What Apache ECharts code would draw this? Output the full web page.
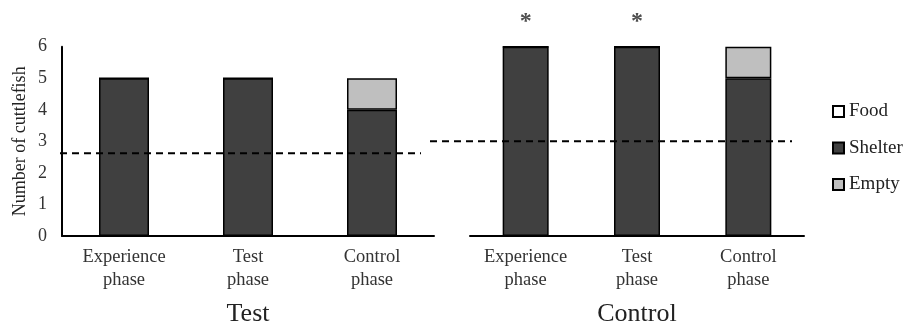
<!DOCTYPE html>
<html>
<head>
<meta charset="utf-8">
<script src="https://cdn.jsdelivr.net/npm/echarts@6/dist/echarts.min.js"></script>
<style>html,body{margin:0;padding:0;background:#fff;}#c{width:909px;height:325px;}</style>
</head>
<body>
<div id="c"></div>
<script>
var categories = ['Experience\nphase', 'Test\nphase', 'Control\nphase'];
var yTicks = [0, 1, 2, 3, 4, 5, 6];
var groups = ['Test', 'Control'];
var foodTest = [0, 0, 0];
var shelterTest = [5, 5, 4];
var emptyTest = [0, 0, 1];
var foodControl = [0, 0, 0];
var shelterControl = [6, 6, 5];
var emptyControl = [0, 0, 1];
var sigControl = ['*', '*', ''];
var chanceLevels = [2.62, 3.0];

var FONT = 'Liberation Serif';
var TOP = 46.7, BOTTOM = 89;
var dashSpans = [[60, 421], [430, 792]];

function totals(a, b, c) { return a.map(function (v, i) { return v + b[i] + c[i]; }); }

var chart = echarts.init(document.getElementById('c'), null, {renderer: 'canvas'});

function barSeries(name, data, idx, color, width) {
  return {
    name: name, type: 'bar', stack: 's' + idx, xAxisIndex: idx, yAxisIndex: idx,
    data: data, barWidth: width,
    itemStyle: {color: color, borderColor: '#000', borderWidth: 1.5},
    emphasis: {disabled: true}, z: 2
  };
}

var catAxis = function (idx, name) {
  return {
    type: 'category', gridIndex: idx, data: categories,
    axisLine: {lineStyle: {color: '#000', width: 2}},
    axisTick: {show: false},
    axisLabel: {color: '#333', fontFamily: FONT, fontSize: 18.5, lineHeight: 23, margin: 10},
    name: name, nameLocation: 'middle', nameGap: 65,
    nameTextStyle: {color: '#222', fontFamily: FONT, fontSize: 26}
  };
};

var valAxis = function (idx, show) {
  return {
    type: 'value', gridIndex: idx, min: yTicks[0], max: yTicks[yTicks.length - 1], interval: 1,
    show: show,
    axisLine: {show: true, lineStyle: {color: '#000', width: 2}},
    axisTick: {show: false},
    splitLine: {show: false},
    axisLabel: {color: '#333', fontFamily: FONT, fontSize: 18, margin: 15},
    name: show ? 'Number of cuttlefish' : '', nameLocation: 'middle', nameGap: 33,
    nameTextStyle: {color: '#222', fontFamily: FONT, fontSize: 18}
  };
};

var option = {
  animation: false,
  backgroundColor: '#fff',
  grid: [
    {left: 62, right: 909 - 434, top: TOP, bottom: BOTTOM, outerBoundsMode: 'none', containLabel: false},
    {left: 470, right: 909 - 804, top: TOP, bottom: BOTTOM, outerBoundsMode: 'none', containLabel: false},
    {left: 0, right: 0, top: TOP, bottom: BOTTOM, outerBoundsMode: 'none', containLabel: false}
  ],
  xAxis: [
    catAxis(0, groups[0]),
    catAxis(1, groups[1]),
    {type: 'value', gridIndex: 2, min: 0, max: 909, show: false}
  ],
  yAxis: [
    valAxis(0, true),
    valAxis(1, false),
    {type: 'value', gridIndex: 2, min: yTicks[0], max: yTicks[yTicks.length - 1], show: false}
  ],
  legend: {
    data: ['Food', 'Shelter', 'Empty'],
    orient: 'vertical', left: 832, top: 102, padding: 0,
    icon: 'rect', itemWidth: 11, itemHeight: 11, itemGap: 17.5,
    textStyle: {color: '#222', fontFamily: FONT, fontSize: 19, lineHeight: 19},
    selectedMode: false
  },
  series: [
    barSeries('Food', foodTest, 0, '#fff', 50),
    barSeries('Shelter', shelterTest, 0, '#404040', 50),
    barSeries('Empty', emptyTest, 0, '#bfbfbf', 50),
    barSeries('Food', foodControl, 1, '#fff', 46),
    barSeries('Shelter', shelterControl, 1, '#404040', 46),
    barSeries('Empty', emptyControl, 1, '#bfbfbf', 46),
    {
      name: 'sig', type: 'scatter', xAxisIndex: 1, yAxisIndex: 1,
      data: totals(foodControl, shelterControl, emptyControl),
      symbolSize: 0, silent: true,
      label: {
        show: true, position: 'top', distance: 13,
        formatter: function (p) { return sigControl[p.dataIndex]; },
        color: '#222', fontFamily: FONT, fontSize: 24, fontWeight: 'bold'
      }
    },
    {
      name: 'chance1', type: 'line', xAxisIndex: 2, yAxisIndex: 2, silent: true,
      data: dashSpans[0].map(function (x) { return [x, chanceLevels[0]]; }),
      symbol: 'none', lineStyle: {color: '#000', width: 2, type: [7, 5]}, z: 5
    },
    {
      name: 'chance2', type: 'line', xAxisIndex: 2, yAxisIndex: 2, silent: true,
      data: dashSpans[1].map(function (x) { return [x, chanceLevels[1]]; }),
      symbol: 'none', lineStyle: {color: '#000', width: 2, type: [7, 5]}, z: 5
    }
  ]
};
chart.setOption(option);
</script>
</body>
</html>
